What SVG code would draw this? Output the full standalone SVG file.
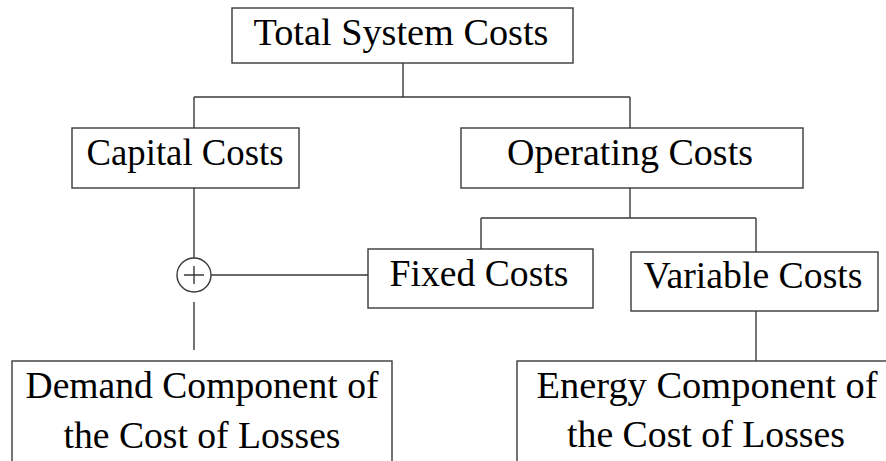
<svg xmlns="http://www.w3.org/2000/svg" width="886" height="461" viewBox="0 0 886 461">
<style>
.box{fill:#fff;stroke:#3a3a3a;stroke-width:1.4}
.ln{fill:none;stroke:#3a3a3a;stroke-width:1.4}
.t{font-family:"Liberation Serif","Times New Roman",serif;font-size:38px;fill:#000;text-anchor:middle}
</style>
<rect width="886" height="461" fill="#fff"/>
<g id="connectors">
<path class="ln" d="M403,63 V97 M194,97 H630 M194,97 V128 M630,97 V128"/>
<path class="ln" d="M194,188 V258 M211,275 H368 M194,302 V350"/>
<path class="ln" d="M630,188 V218 M481,218 H756 M481,218 V249 M756,218 V252"/>
<path class="ln" d="M756,311 V361"/>
</g>
<g id="total">
<rect class="box" x="232" y="8" width="341" height="55"/>
<text class="t" x="401" y="45" textLength="295" lengthAdjust="spacingAndGlyphs">Total System Costs</text>
</g>
<g id="capital">
<rect class="box" x="72" y="128" width="227" height="60"/>
<text class="t" x="185" y="165" textLength="197" lengthAdjust="spacingAndGlyphs">Capital Costs</text>
</g>
<g id="operating">
<rect class="box" x="461" y="128" width="342" height="60"/>
<text class="t" x="630" y="165" textLength="246" lengthAdjust="spacingAndGlyphs">Operating Costs</text>
</g>
<g id="sum">
<circle class="ln" cx="194" cy="275" r="17"/>
<path class="ln" d="M184,275 H204 M194,266 V284"/>
</g>
<g id="fixed">
<rect class="box" x="368" y="249" width="225" height="59"/>
<text class="t" x="479" y="286" textLength="179" lengthAdjust="spacingAndGlyphs">Fixed Costs</text>
</g>
<g id="variable">
<rect class="box" x="631" y="252" width="247" height="59"/>
<text class="t" x="753" y="288" textLength="219" lengthAdjust="spacingAndGlyphs">Variable Costs</text>
</g>
<g id="demand">
<rect class="box" x="12" y="361" width="380" height="120"/>
<text class="t" x="202" y="398" textLength="353" lengthAdjust="spacingAndGlyphs">Demand Component of</text>
<text class="t" x="202" y="448" textLength="277" lengthAdjust="spacingAndGlyphs">the Cost of Losses</text>
</g>
<g id="energy">
<rect class="box" x="517" y="361" width="380" height="120"/>
<text class="t" x="707" y="398" textLength="341" lengthAdjust="spacingAndGlyphs">Energy Component of</text>
<text class="t" x="706" y="447" textLength="278" lengthAdjust="spacingAndGlyphs">the Cost of Losses</text>
</g>
</svg>
